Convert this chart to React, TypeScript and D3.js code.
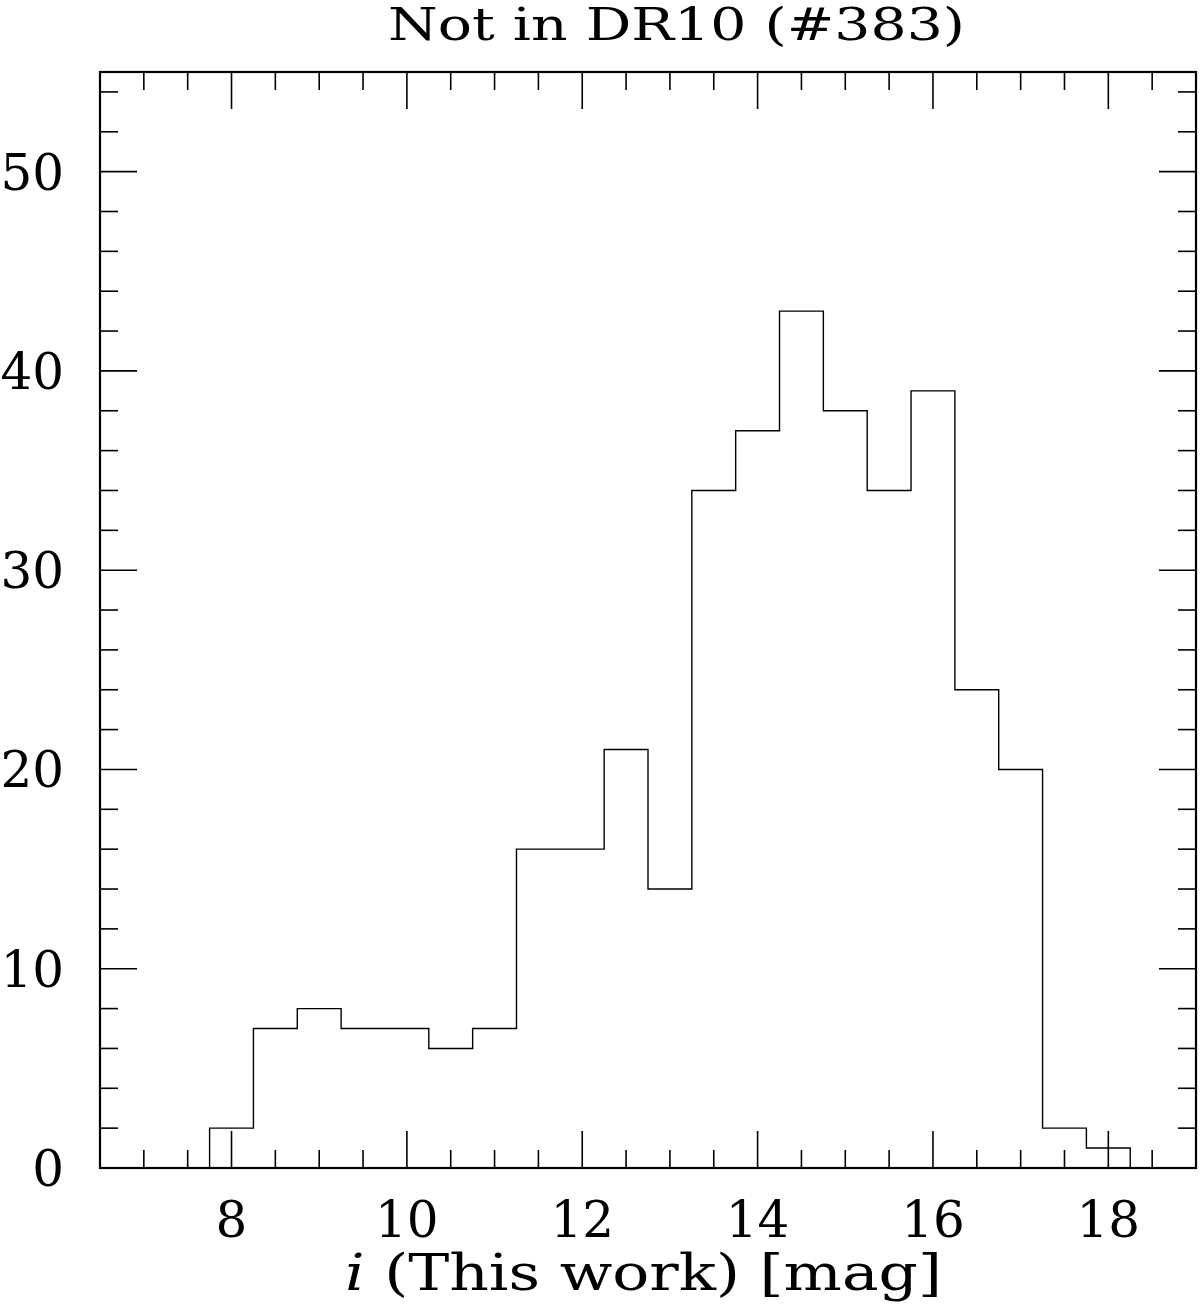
import React from "react";
import * as d3 from "d3";

const binLow = [7.75, 8.25, 8.75, 9.25, 9.75, 10.25, 10.75, 11.25, 11.75, 12.25, 12.75, 13.25, 13.75, 14.25, 14.75, 15.25, 15.75, 16.25, 16.75, 17.25, 17.75];
const binWidth = 0.5;
const counts = [2, 7, 8, 7, 7, 6, 7, 16, 16, 21, 14, 34, 37, 43, 38, 34, 39, 24, 20, 2, 1];
const xTickLabels = [8, 10, 12, 14, 16, 18];
const yTickLabels = [0, 10, 20, 30, 40, 50];
const title = "Not in DR10 (#383)";

const W = 1200, H = 1307;
const L = 100, R = 1196, T = 72, B = 1168;
const FONT = "'DejaVu Serif', 'Liberation Serif', serif";

export default function App() {
  const x = d3.scaleLinear().domain([6.5, 19]).range([L, R]);
  const y = d3.scaleLinear().domain([0, 55]).range([B, T]);

  const pts: [number, number][] = [];
  binLow.forEach((lo, i) => {
    const prev = i === 0 ? 0 : counts[i - 1];
    pts.push([lo, prev]);
    pts.push([lo, counts[i]]);
  });
  const lastHi = binLow[binLow.length - 1] + binWidth;
  pts.push([lastHi, counts[counts.length - 1]]);
  pts.push([lastHi, 0]);
  const line = d3.line<[number, number]>().x(d => x(d[0])).y(d => y(d[1]));

  const xMinor = d3.range(7, 19.01, 0.5);
  const yMinor = d3.range(2, 55, 2);
  const majLen = 37, minLen = 18;

  return (
    <div style={{ position: "absolute", left: 0, top: 0 }}>
      <svg width={W} height={H} style={{ display: "block", background: "#fff" }}>
        <g stroke="#000" strokeWidth={1.6} fill="none">
          {xMinor.map(v => {
            const isMaj = Math.abs(v % 2) < 1e-9;
            const len = isMaj ? majLen : minLen;
            return (
              <g key={"x" + v}>
                <line x1={x(v)} x2={x(v)} y1={B} y2={B - len} />
                <line x1={x(v)} x2={x(v)} y1={T} y2={T + len} />
              </g>
            );
          })}
          {yMinor.map(v => {
            const isMaj = v % 10 === 0;
            const len = isMaj ? majLen : minLen;
            return (
              <g key={"y" + v}>
                <line x1={L} x2={L + len} y1={y(v)} y2={y(v)} />
                <line x1={R} x2={R - len} y1={y(v)} y2={y(v)} />
              </g>
            );
          })}
          <path d={line(pts) || ""} strokeWidth={1.4} />
          <rect x={L} y={T} width={R - L} height={B - T} strokeWidth={2.2} />
        </g>
        <g fontFamily={FONT} fontSize={50} fill="#000">
          {xTickLabels.map(v => (
            <text key={"xl" + v} x={x(v)} y={1237} textAnchor="middle">{v}</text>
          ))}
          {yTickLabels.map(v => (
            <text key={"yl" + v} x={64} y={y(v) + 18} textAnchor="end">{v}</text>
          ))}
        </g>
        <text x={388} y={40} fontFamily={FONT} fontSize={44} textLength={577} lengthAdjust="spacingAndGlyphs">{title}</text>
        <text x={345} y={1290} fontFamily={FONT} fontSize={50} textLength={597} lengthAdjust="spacingAndGlyphs">
          <tspan fontStyle="italic">i</tspan>
          <tspan> (This work) [mag]</tspan>
        </text>
      </svg>
    </div>
  );
}
